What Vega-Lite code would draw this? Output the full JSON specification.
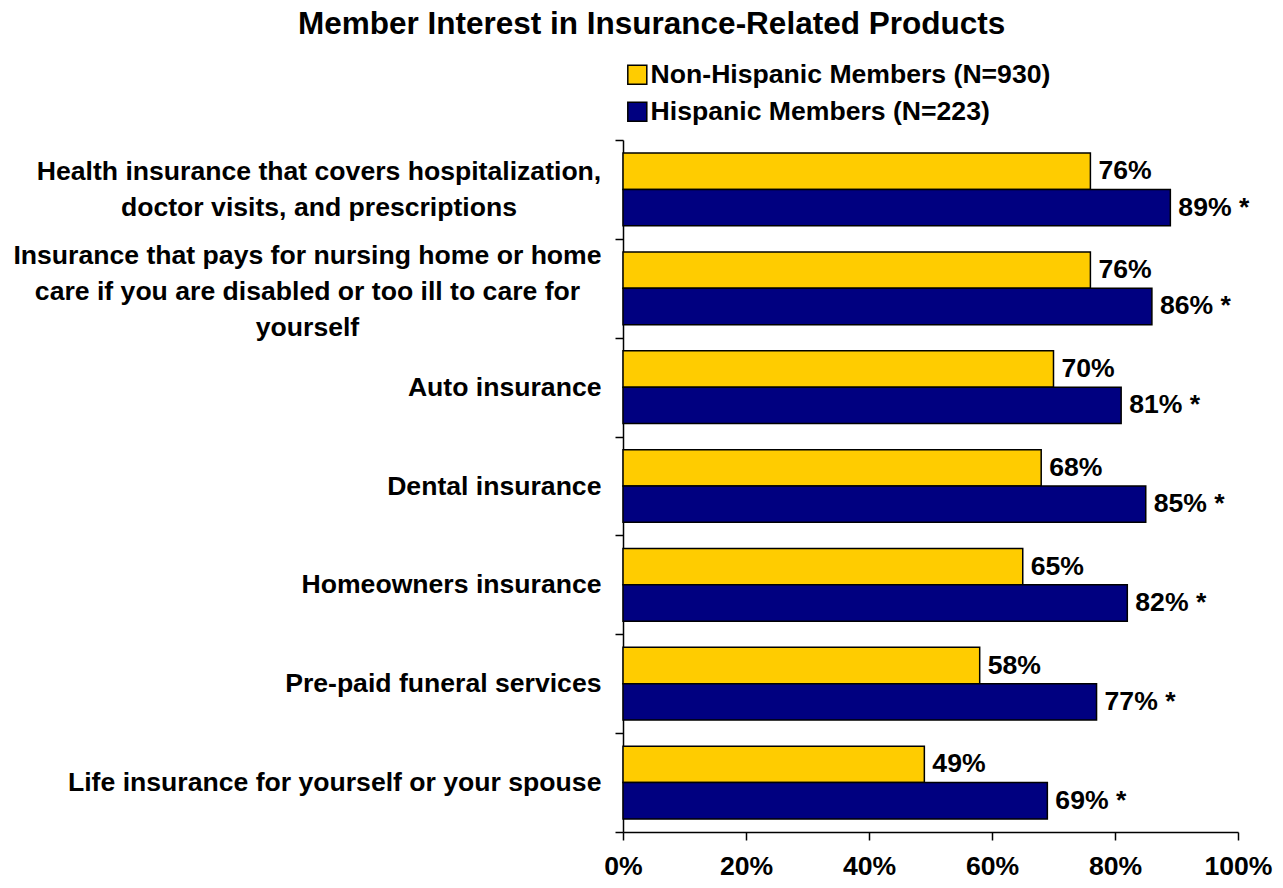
{
  "$schema": "https://vega.github.io/schema/vega-lite/v6.json",
  "width": 615,
  "height": 692,
  "autosize": {"type": "none"},
  "padding": {"left": 623, "top": 140, "right": 45, "bottom": 56},
  "background": "white",
  "title": {
    "text": "Member Interest in Insurance-Related Products",
    "font": "Liberation Sans",
    "fontSize": 31.5,
    "fontWeight": "bold",
    "color": "black",
    "anchor": "start",
    "frame": "group",
    "baseline": "bottom",
    "dx": -325,
    "offset": -11
  },
  "data": {
    "values": [
      {"item": "Health insurance that covers hospitalization,|doctor visits, and prescriptions", "group": "Non-Hispanic Members (N=930)", "value": 76, "label": "76%"},
      {"item": "Health insurance that covers hospitalization,|doctor visits, and prescriptions", "group": "Hispanic Members (N=223)", "value": 89, "label": "89% *"},
      {"item": "Insurance that pays for nursing home or home|care if you are disabled or too ill to care for|yourself", "group": "Non-Hispanic Members (N=930)", "value": 76, "label": "76%"},
      {"item": "Insurance that pays for nursing home or home|care if you are disabled or too ill to care for|yourself", "group": "Hispanic Members (N=223)", "value": 86, "label": "86% *"},
      {"item": "Auto insurance", "group": "Non-Hispanic Members (N=930)", "value": 70, "label": "70%"},
      {"item": "Auto insurance", "group": "Hispanic Members (N=223)", "value": 81, "label": "81% *"},
      {"item": "Dental insurance", "group": "Non-Hispanic Members (N=930)", "value": 68, "label": "68%"},
      {"item": "Dental insurance", "group": "Hispanic Members (N=223)", "value": 85, "label": "85% *"},
      {"item": "Homeowners insurance", "group": "Non-Hispanic Members (N=930)", "value": 65, "label": "65%"},
      {"item": "Homeowners insurance", "group": "Hispanic Members (N=223)", "value": 82, "label": "82% *"},
      {"item": "Pre-paid funeral services", "group": "Non-Hispanic Members (N=930)", "value": 58, "label": "58%"},
      {"item": "Pre-paid funeral services", "group": "Hispanic Members (N=223)", "value": 77, "label": "77% *"},
      {"item": "Life insurance for yourself or your spouse", "group": "Non-Hispanic Members (N=930)", "value": 49, "label": "49%"},
      {"item": "Life insurance for yourself or your spouse", "group": "Hispanic Members (N=223)", "value": 69, "label": "69% *"}
    ]
  },
  "encoding": {
    "y": {
      "field": "item",
      "type": "nominal",
      "sort": null,
      "scale": {"paddingInner": 0, "paddingOuter": 0},
      "axis": {
        "title": null,
        "tickBand": "extent",
        "tickSize": 8,
        "tickColor": "black",
        "tickWidth": 1.5,
        "domainColor": "black",
        "domainWidth": 1.5,
        "labelExpr": "split(datum.label, '|')",
        "labelLineHeight": 36,
        "labelFont": "Liberation Sans",
        "labelFontSize": 26.6,
        "labelFontWeight": "bold",
        "labelColor": "black",
        "labelLimit": 800,
        "labelBaseline": "middle",
        "labelAlign": "center",
        "labelPadding": 14,
        "encoding": {
          "labels": {
            "dy": {"value": {"expr": "(length(split(datum && datum.value ? '' + datum.value : '', '|')) - 1) * -18 + (length(split(datum && datum.value ? '' + datum.value : '', '|')) === 3 ? 3 : 0)"}},
            "dx": {"value": {"expr": "!(datum && datum.value) ? 0 : indexof('' + datum.value, 'Health insurance that') === 0 ? -282.5 : indexof('' + datum.value, 'Insurance that pays') === 0 ? -294 : indexof('' + datum.value, 'Auto') === 0 ? -96.8 : indexof('' + datum.value, 'Dental') === 0 ? -107.2 : indexof('' + datum.value, 'Homeowners') === 0 ? -150 : indexof('' + datum.value, 'Pre-paid') === 0 ? -158.2 : -266.8"}}
          }
        }
      }
    },
    "yOffset": {
      "field": "group",
      "type": "nominal",
      "sort": ["Non-Hispanic Members (N=930)", "Hispanic Members (N=223)"],
      "scale": {"paddingInner": 0, "paddingOuter": 0.36}
    },
    "x": {
      "field": "value",
      "type": "quantitative",
      "scale": {"domain": [0, 100], "nice": false},
      "axis": {
        "title": null,
        "grid": false,
        "values": [0, 20, 40, 60, 80, 100],
        "labelExpr": "datum.value + '%'",
        "tickSize": 8,
        "tickColor": "black",
        "tickWidth": 1.5,
        "domainColor": "black",
        "domainWidth": 1.5,
        "labelFont": "Liberation Sans",
        "labelFontSize": 26.6,
        "labelFontWeight": "bold",
        "labelColor": "black",
        "labelPadding": 13,
        "labelFlush": false
      }
    }
  },
  "layer": [
    {
      "mark": {"type": "bar", "stroke": "black", "strokeWidth": 1.5},
      "encoding": {
        "color": {
          "field": "group",
          "type": "nominal",
          "scale": {"domain": ["Non-Hispanic Members (N=930)", "Hispanic Members (N=223)"], "range": ["#FFCC00", "#000080"]},
          "legend": {
            "title": null,
            "orient": "none",
            "legendX": 1,
            "legendY": -78.5,
            "padding": 0,
            "symbolType": "square",
            "symbolSize": 361,
            "symbolStrokeColor": "black",
            "symbolStrokeWidth": 1.5,
            "symbolOpacity": 1,
            "labelFont": "Liberation Sans",
            "labelFontSize": 26.6,
            "labelFontWeight": "bold",
            "labelColor": "black",
            "labelOffset": 0,
            "labelLimit": 800,
            "rowPadding": 10
          }
        }
      }
    },
    {
      "mark": {"type": "text", "align": "left", "baseline": "middle", "dx": 8, "font": "Liberation Sans", "fontSize": 26.6, "fontWeight": "bold", "color": "black"},
      "encoding": {"text": {"field": "label", "type": "nominal"}}
    }
  ],
  "config": {"view": {"stroke": null}}
}
